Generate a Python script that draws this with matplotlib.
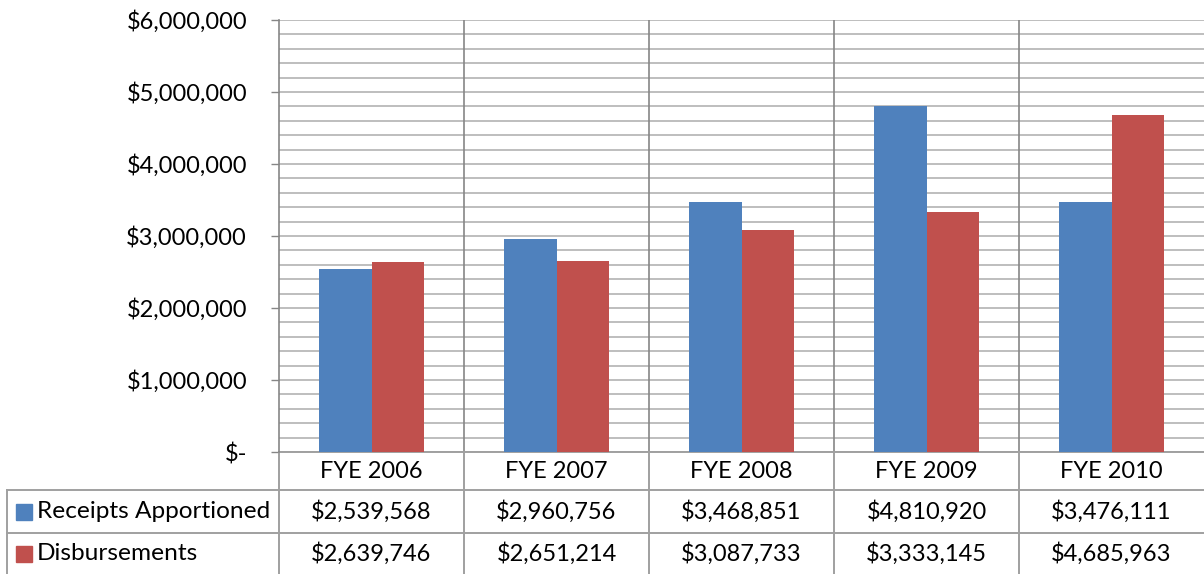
import matplotlib
matplotlib.use("Agg")
import matplotlib.pyplot as plt
from matplotlib.ticker import FuncFormatter, MultipleLocator
from matplotlib.patches import Rectangle

categories = ["FYE 2006", "FYE 2007", "FYE 2008", "FYE 2009", "FYE 2010"]
receipts = [2539568, 2960756, 3468851, 4810920, 3476111]
disbursements = [2639746, 2651214, 3087733, 3333145, 4685963]
series_names = ["Receipts Apportioned", "Disbursements"]
colors = ["#4f81bd", "#c0504d"]

W, H = 1204, 574
fig = plt.figure(figsize=(W / 100, H / 100), dpi=100)
plt.rcParams['font.family'] = ['Lato', 'DejaVu Sans']
FS = 17
PX = 0.72  # points per pixel at 100 dpi

# axes in pixel geometry
left, right, top, bottom = 279, 1204, 20, 452
ax = fig.add_axes([left / W, (H - bottom) / H, (right - left) / W, (bottom - top) / H])

x = range(len(categories))
bw = 1 / 3.5
ax.bar([i - bw / 2 for i in x], receipts, width=bw, color=colors[0], zorder=3)
ax.bar([i + bw / 2 for i in x], disbursements, width=bw, color=colors[1], zorder=3)

ax.set_xlim(-0.5, len(categories) - 0.5)
ax.set_ylim(0, 6000000)
ax.yaxis.set_major_locator(MultipleLocator(1000000))
ax.yaxis.set_minor_locator(MultipleLocator(200000))
ax.yaxis.set_major_formatter(FuncFormatter(lambda v, p: "$-" if v == 0 else f"${v:,.0f}"))
ax.grid(axis="y", which="both", color="#b3b3b3", lw=1.2, zorder=0)
ax.tick_params(axis="y", which="major", length=8 * PX, width=1, color="#868686",
               labelsize=FS, pad=24 * PX)
ax.tick_params(axis="y", which="minor", length=0)
ax.set_xticks([])
for s in ["top", "right", "bottom"]:
    ax.spines[s].set_visible(False)
ax.spines["left"].set_color("#868686")
ax.spines["left"].set_linewidth(1.2)

# vertical category dividers
for i in range(1, len(categories)):
    ax.axvline(i - 0.5, color="#868686", lw=1.2, zorder=2)

# data table below the plot
tr = ax.get_xaxis_transform()
ph = bottom - top
r0 = 0
r1 = -(490 - bottom) / ph
r2 = -(533 - bottom) / ph
r3 = -(574 - bottom) / ph
gc = "#a0a0a0"
xl = ax.transData.inverted().transform((7, 0))[0]
xmax = len(categories) - 0.5

def hline(y, x0, x1):
    ax.plot([x0, x1], [y, y], transform=tr, color=gc, lw=1.4, clip_on=False)

def vline(xx, y0, y1):
    ax.plot([xx, xx], [y0, y1], transform=tr, color=gc, lw=1.4, clip_on=False)

hline(r0, -0.5, xmax)
hline(r1, xl, xmax)
hline(r2, xl, xmax)
vline(xl, r1, r3)
for i in range(len(categories)):
    vline(i - 0.5, r0, r3)

for i, c in enumerate(categories):
    ax.text(i, (r0 + r1) / 2, c, transform=tr, ha="center", va="center", fontsize=FS)
    ax.text(i, (r1 + r2) / 2, f"${receipts[i]:,}", transform=tr, ha="center", va="center", fontsize=FS)
    ax.text(i, (r2 + r3) / 2, f"${disbursements[i]:,}", transform=tr, ha="center", va="center", fontsize=FS)

for name, col, (ya, yb) in zip(series_names, colors, [(r1, r2), (r2, r3)]):
    yc = H - ((ya + yb) / 2 * -ph + bottom)
    fig.add_artist(Rectangle((16 / W, (yc - 8) / H), 16 / W, 16 / H,
                             color=col, transform=fig.transFigure))
    fig.text(37 / W, yc / H, name, ha="left", va="center", fontsize=17.6)

fig.savefig("out.png", dpi=100)
